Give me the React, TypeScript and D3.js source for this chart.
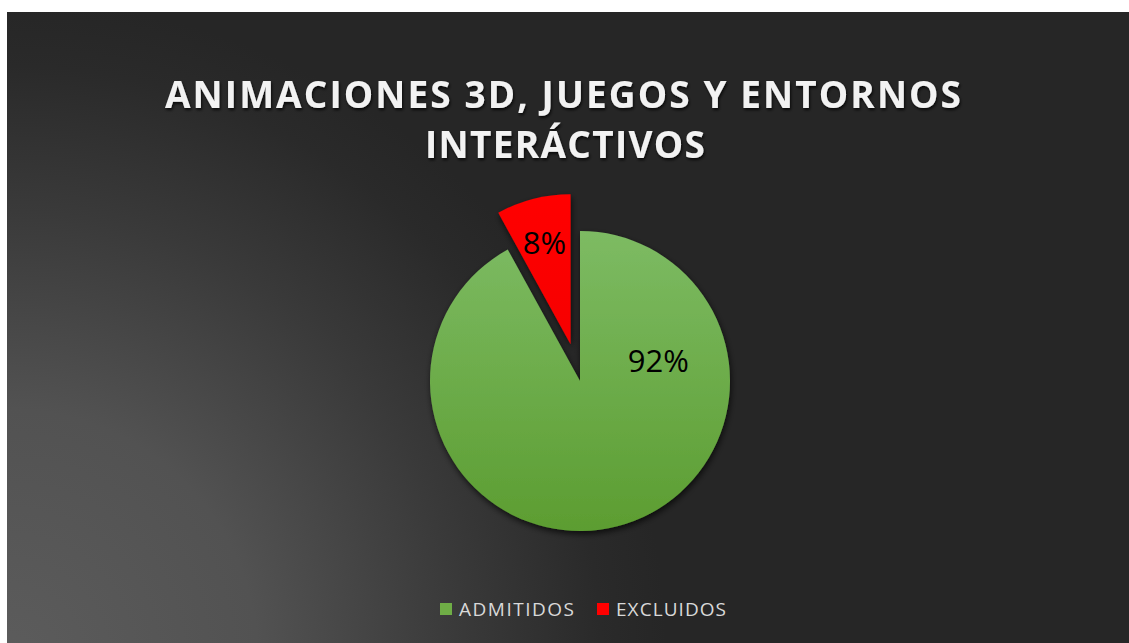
import React from "react";
import * as d3 from "d3";

const categories = ["ADMITIDOS", "EXCLUIDOS"];
const values = [92, 8];
const labels = ["92%", "8%"];
const colors = ["#6fad46", "#ff0000"];
const titleLines = ["ANIMACIONES 3D, JUEGOS Y ENTORNOS", "INTERÁCTIVOS"];

const W = 1129;
const H = 643;

export default function App() {
  const cx = 580;
  const cy = 381;
  const r = 150;
  const explode = [0, 38];

  const pie = d3.pie<number>().sort(null).startAngle(0).endAngle(2 * Math.PI);
  const arcs = pie(values);
  const arcGen = d3.arc<d3.PieArcDatum<number>>().innerRadius(0).outerRadius(r);

  const offsets = arcs.map((a, i) => {
    const mid = (a.startAngle + a.endAngle) / 2;
    return [Math.sin(mid) * explode[i], -Math.cos(mid) * explode[i]];
  });

  const labelPos = arcs.map((a, i) => {
    const mid = (a.startAngle + a.endAngle) / 2;
    if (i === 0) {
      const ang = (75 * Math.PI) / 180;
      return [cx + Math.sin(ang) * r * 0.54, cy - Math.cos(ang) * r * 0.54];
    }
    const k = r * 0.7;
    return [cx + offsets[i][0] + Math.sin(mid) * k, cy + offsets[i][1] - Math.cos(mid) * k];
  });

  const legendItems = [
    { x: 440, textX: 459, len: 115 },
    { x: 597, textX: 616, len: 110 },
  ];

  return (
    <svg
      width={W}
      height={H}
      style={{ position: "absolute", left: 0, top: 0, display: "block" }}
      fontFamily="'Open Sans', sans-serif"
    >
      <defs>
        <radialGradient id="bg" gradientUnits="userSpaceOnUse" cx={7} cy={660} r={660}>
          <stop offset="0" stopColor="#5c5c5c" />
          <stop offset="0.38" stopColor="#525252" />
          <stop offset="0.68" stopColor="#3a3a3a" />
          <stop offset="0.9" stopColor="#2a2a2a" />
          <stop offset="1" stopColor="#262626" />
        </radialGradient>
        <linearGradient id="gGreen" gradientUnits="userSpaceOnUse" x1={0} y1={-r} x2={0} y2={r}>
          <stop offset="0" stopColor="#7dbb63" />
          <stop offset="1" stopColor="#5c9d31" />
        </linearGradient>
        <linearGradient id="gRed" gradientUnits="userSpaceOnUse" x1={0} y1={-r} x2={0} y2={0}>
          <stop offset="0" stopColor="#ff0000" />
          <stop offset="1" stopColor="#f60000" />
        </linearGradient>
        <filter id="shadow" x="-20%" y="-20%" width="140%" height="140%">
          <feDropShadow dx="1" dy="3" stdDeviation="3" floodColor="#000" floodOpacity="0.7" />
        </filter>
        <filter id="tshadow" x="-5%" y="-30%" width="110%" height="160%">
          <feDropShadow dx="1" dy="2" stdDeviation="1.5" floodColor="#000" floodOpacity="0.8" />
        </filter>
      </defs>
      <rect x={0} y={0} width={W} height={H} fill="#ffffff" />
      <rect x={7} y={12} width={W - 7} height={H - 12} fill="url(#bg)" />

      <g filter="url(#tshadow)" fill="#f2f2f2" fontWeight="bold" fontSize={37}>
        <text x={165} y={108} textLength={796} lengthAdjust="spacing">
          {titleLines[0]}
        </text>
        <text x={425} y={158} textLength={280} lengthAdjust="spacing">
          {titleLines[1]}
        </text>
      </g>

      <g filter="url(#shadow)">
        {arcs.map((a, i) => (
          <path
            key={categories[i]}
            d={arcGen(a) || ""}
            transform={`translate(${cx + offsets[i][0]},${cy + offsets[i][1]})`}
            fill={i === 0 ? "url(#gGreen)" : "url(#gRed)"}
          />
        ))}
      </g>

      {labels.map((l, i) => (
        <text
          key={l}
          x={labelPos[i][0]}
          y={labelPos[i][1]}
          textAnchor="middle"
          dominantBaseline="central"
          fontSize={31}
          fill="#000"
        >
          {l}
        </text>
      ))}

      {categories.map((c, i) => (
        <g key={c}>
          <rect x={legendItems[i].x} y={603} width={12} height={12} fill={colors[i]} />
          <text
            x={legendItems[i].textX}
            y={616}
            fontSize={19}
            fill="#d9d9d9"
            textLength={legendItems[i].len}
            lengthAdjust="spacing"
          >
            {c}
          </text>
        </g>
      ))}
    </svg>
  );
}
